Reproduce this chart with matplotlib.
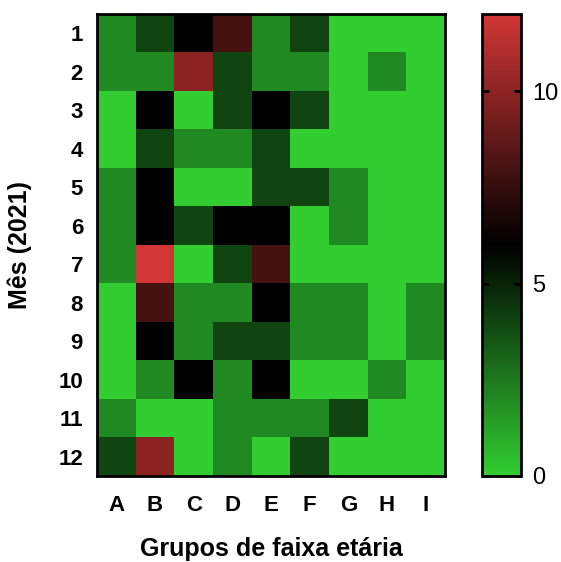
import numpy as np
import matplotlib.pyplot as plt
from matplotlib.colors import LinearSegmentedColormap

plt.rcParams['font.family'] = ['Liberation Sans', 'DejaVu Sans']

# Meses (linhas) e grupos de faixa etária (colunas)
meses = ['1', '2', '3', '4', '5', '6', '7', '8', '9', '10', '11', '12']
grupos = ['A', 'B', 'C', 'D', 'E', 'F', 'G', 'H', 'I']

# valores (uma lista por mês)
m1 = [2, 4, 6, 8, 2, 4, 0, 0, 0]
m2 = [2, 2, 10, 4, 2, 2, 0, 2, 0]
m3 = [0, 6, 0, 4, 6, 4, 0, 0, 0]
m4 = [0, 4, 2, 2, 4, 0, 0, 0, 0]
m5 = [2, 6, 0, 0, 4, 4, 2, 0, 0]
m6 = [2, 6, 4, 6, 6, 0, 2, 0, 0]
m7 = [2, 12, 0, 4, 8, 0, 0, 0, 0]
m8 = [0, 8, 2, 2, 6, 2, 2, 0, 2]
m9 = [0, 6, 2, 4, 4, 2, 2, 0, 2]
m10 = [0, 2, 6, 2, 6, 0, 0, 2, 0]
m11 = [2, 0, 0, 2, 2, 2, 4, 0, 0]
m12 = [4, 10, 0, 2, 0, 4, 0, 0, 0]

dados = np.array([m1, m2, m3, m4, m5, m6, m7, m8, m9, m10, m11, m12])

# verde -> preto -> vermelho
cmap = LinearSegmentedColormap.from_list(
    'verde_vermelho', [(0.196, 0.804, 0.196), (0, 0, 0), (0.82, 0.21, 0.21)])

fig = plt.figure(figsize=(5.61, 5.62), dpi=100)
ax = fig.add_axes([97 / 561, 1 - 476 / 562, 348 / 561, 462 / 562])
cax = fig.add_axes([482 / 561, 1 - 476 / 562, 39 / 561, 462 / 562])

im = ax.imshow(dados, cmap=cmap, vmin=0, vmax=12, aspect='auto')

ax.set_xticks(range(len(grupos)))
ax.set_xticklabels(grupos, fontsize=16, fontweight='bold')
ax.set_yticks(range(len(meses)))
ax.set_yticklabels(meses, fontsize=16, fontweight='bold')
ax.tick_params(axis='x', length=0, pad=14)
ax.tick_params(axis='y', length=0, pad=10)
ax.set_xlabel('Grupos de faixa etária', fontsize=18, fontweight='bold', va='center')
ax.set_ylabel('Mês (2021)', fontsize=18, fontweight='bold', va='center')
ax.xaxis.set_label_coords(0.5, -(549 - 476) / 462)
ax.yaxis.set_label_coords((20 - 97) / 348, 0.5)
for s in ax.spines.values():
    s.set_linewidth(2)

cb = fig.colorbar(im, cax=cax, ticks=[0, 5, 10])
cb.outline.set_linewidth(2)
cax.tick_params(direction='in', length=5, width=2, left=True, right=True,
                labelsize=17, pad=8)

plt.savefig('out.png', dpi=100)
